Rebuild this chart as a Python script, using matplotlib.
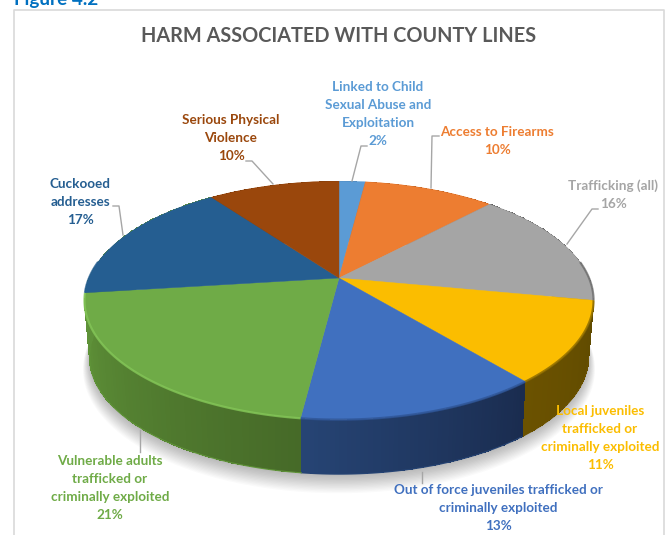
import numpy as np
import matplotlib
matplotlib.use('Agg')
from matplotlib import pyplot as plt
from matplotlib.colors import to_rgb

plt.rcParams['font.family'] = ['Lato', 'DejaVu Sans']

title = 'HARM ASSOCIATED WITH COUNTY LINES'
labels = ['Linked to Child\nSexual Abuse and\nExploitation', 'Access to Firearms', 'Trafficking (all)',
          'Local juveniles\ntrafficked or\ncriminally exploited',
          'Out of force juveniles trafficked or\ncriminally exploited',
          'Vulnerable adults\ntrafficked or\ncriminally exploited', 'Cuckooed\naddresses',
          'Serious Physical\nViolence']
values = [2, 10, 16, 11, 13, 21, 17, 10]

colors = ['#5B9BD5', '#ED7D31', '#A5A5A5', '#FBBD00', '#4070BF', '#6FAB47', '#255E91', '#9A470C']
wall_a = ['#33608a', '#8f4a1c', '#5a5a5a', '#5f4a00', '#1a2c4f', '#466a28', '#5e9139', '#5e2c08']
wall_b = ['#33608a', '#8f4a1c', '#5a5a5a', '#6b5200', '#264474', '#609439', '#5e9139', '#5e2c08']
rim_colors = ['#5B9BD5', '#ED7D31', '#6e6e6e', '#8a6a00', '#2f5596', '#84c658', '#255E91', '#9A470C']

# layout, in pixels of the 668x535 picture
label_xy = [(378, 114), (497, 141), (613, 195), (600, 438), (498, 508), (110, 488), (80.5, 202), (231, 138)]
leaders = [[(352, 181), (361, 146), (367, 146)],
           [(431, 188), (432, 136), (439, 136)],
           [(567, 244), (592, 209), (598, 209)],
           [],
           [(422, 472), (422, 483)],
           [(140, 430), (140, 452)],
           [(123, 235), (119, 206), (113, 206)],
           [(273, 184), (252, 161), (246, 161)]]
cx, cy = 339, 278


def project(theta, a=250, b=115, k=0.188, dy=0):
    # slanted circle seen in perspective, angle runs clockwise from the top
    u, v = np.sin(theta), -np.cos(theta)
    w = 1 - k * v
    return cx + a * u / w, cy + dy + b * v / w


def lower(theta):
    return project(theta, a=245, b=113, dy=57)


fig = plt.figure(figsize=(6.68, 5.35), dpi=100)
ax = fig.add_axes([0, 0, 1, 1])
ax.set_xlim(0, 668)
ax.set_ylim(535, 0)
ax.axis('off')

# frame and clipped caption
ax.plot([14, 14, 664, 664], [535, 10, 10, 535], color='#d9d9d9', lw=1.2)
ax.text(14, 5, 'Figure 4.2', color='#0070C0', fontsize=13.6, fontweight='bold', ha='left', va='baseline')
ax.text(339, 36, title, color='#595959', fontsize=14.3, fontweight='bold', ha='center', va='center')

# soft shadow below the pie
t = np.linspace(0, 2 * np.pi, 300)
for i in range(14):
    x, y = project(t, a=245 + i * 0.5, b=113 + i * 0.5, dy=59 + i * 0.7)
    ax.fill(x, y, color='black', alpha=0.02, lw=0, zorder=1)

# side wall, slice by slice, colour drifting along the rim
edges = np.cumsum([0] + values) / sum(values) * 2 * np.pi
for i in range(len(values)):
    ts = np.linspace(edges[i], edges[i + 1], 60)
    x1, y1 = project(ts)
    x2, y2 = lower(ts)
    c0, c1 = np.array(to_rgb(wall_a[i])), np.array(to_rgb(wall_b[i]))
    shade = c0 + (c1 - c0) * np.linspace(0, 1, len(ts) - 1)[:, None]
    ax.pcolormesh(np.array([x1, x2]), np.array([y1, y2]), shade[None, :, :], shading='flat', zorder=2)
    ax.plot(x2, y2, color=wall_b[i], lw=0.8, zorder=2)

# top face
for i in range(len(values)):
    ts = np.linspace(edges[i], edges[i + 1], 80)
    x, y = project(ts)
    ax.fill(np.r_[cx, x], np.r_[cy, y], color=colors[i], lw=0.3, zorder=3)
    front = np.cos(ts) < 0.15
    ax.plot(x[front], y[front], color=rim_colors[i], lw=1.6, alpha=0.8, zorder=4, solid_capstyle='butt')

# labels and leader lines
for i in range(len(values)):
    ax.text(label_xy[i][0], label_xy[i][1], labels[i] + '\n%d%%' % values[i], color=colors[i],
            fontsize=9.7, fontweight='bold', ha='center', va='center', linespacing=1.6, zorder=6)
    if leaders[i]:
        xs, ys = zip(*leaders[i])
        ax.plot(xs, ys, color='#a6a6a6', lw=1, zorder=5)

fig.savefig('out.png', dpi=100)
